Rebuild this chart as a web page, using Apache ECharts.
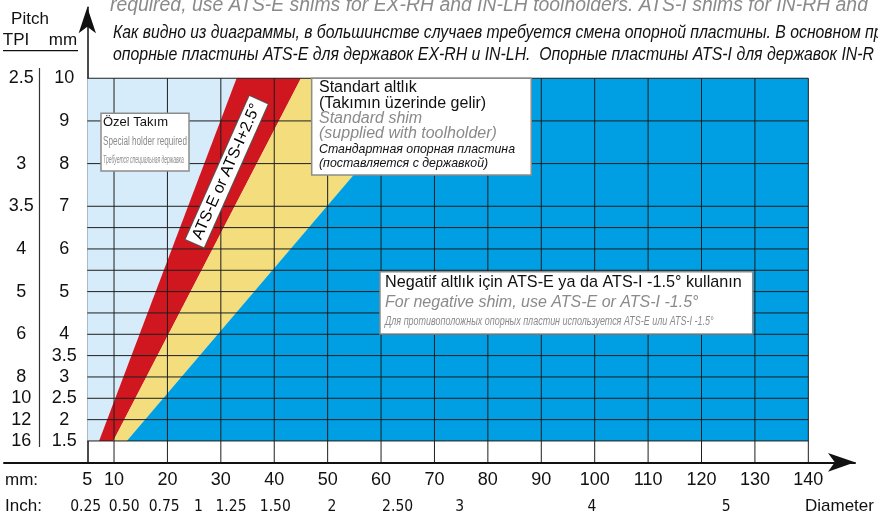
<!DOCTYPE html>
<html><head><meta charset="utf-8">
<script src="https://cdn.jsdelivr.net/npm/echarts@6/dist/echarts.min.js"></script>
<style>html,body{margin:0;padding:0;background:#fff}#c{width:878px;height:515px}</style>
</head><body><div id="c"></div>
<script>
// ---- axis ticks / labels ----
const mmTicks = [5, 10, 20, 30, 40, 50, 60, 70, 80, 90, 100, 110, 120, 130, 140];
const inchTickPos = [4.7, 11.9, 19.4, 25.8, 31.9, 40.2, 50.8, 63.1, 74.7, 99.5, 124.6];
const inchTickLabels = ['0.25', '0.50', '0.75', '1', '1.25', '1.50', '2', '2.50', '3', '4', '5'];
const pitchMmTicks = [1.5, 2, 2.5, 3, 3.5, 4, 5, 6, 7, 8, 9, 10];
const pitchMmLabels = ['1.5', '2', '2.5', '3', '3.5', '4', '5', '6', '7', '8', '9', '10'];
const pitchTpiLabels = ['16', '12', '10', '8', '', '6', '5', '4', '3.5', '3', '', '2.5'];

// ---- grid lines ----
const gridDia = [10, 20, 30, 40, 50, 60, 70, 80, 90, 100, 110, 120, 130, 140];
const gridPitch = [1.5, 2, 2.5, 3, 3.5, 4, 4.5, 5, 5.5, 6, 6.5, 7, 8, 9, 10];

// ---- zones: diameter (mm) of each boundary at pitch 1.5 and at pitch 10 ----
const pitchSpan = [1.5, 10];
const diaSpan = [5, 140];
const redLeft = [7.2, 32.95];
const redRight = [9.85, 45.0];
const yellowRight = [12.4, 70.3];

const zones = [
  { name: 'special', color: '#d6ecfa', pts: [[diaSpan[0], pitchSpan[0]], [diaSpan[1], pitchSpan[0]], [diaSpan[1], pitchSpan[1]], [diaSpan[0], pitchSpan[1]]] },
  { name: 'positive', color: '#d0171f', pts: [[redLeft[0], pitchSpan[0]], [redRight[0], pitchSpan[0]], [redRight[1], pitchSpan[1]], [redLeft[1], pitchSpan[1]]] },
  { name: 'standard', color: '#f3dd7d', pts: [[redRight[0], pitchSpan[0]], [yellowRight[0], pitchSpan[0]], [yellowRight[1], pitchSpan[1]], [redRight[1], pitchSpan[1]]] },
  { name: 'negative', color: '#009fe3', pts: [[yellowRight[0], pitchSpan[0]], [diaSpan[1], pitchSpan[0]], [diaSpan[1], pitchSpan[1]], [yellowRight[1], pitchSpan[1]]] }
];

const gridLines = [];
gridDia.forEach(d => gridLines.push([[d, 1], [d, pitchSpan[1]]]));
gridPitch.forEach(p => gridLines.push([[diaSpan[0], p], [diaSpan[1], p]]));

const bandLabel = [[31.1, 7.81]];

const FONT = '"Liberation Sans", Arial, sans-serif';
const NARROW = '"Liberation Sans Narrow", "DejaVu Sans Condensed", "Liberation Sans", sans-serif';

const chart = echarts.init(document.getElementById('c'), null, { renderer: 'canvas' });

function txt(x, y, text, size, opts) {
  opts = opts || {};
  return {
    type: 'text', x: x, y: y, z: 110, scaleX: opts.sx || 1,
    style: {
      text: text, fill: opts.color || '#111', fontSize: size, fontFamily: FONT,
      fontStyle: opts.italic ? 'italic' : 'normal',
      textAlign: opts.align || 'left', textVerticalAlign: 'middle'
    }
  };
}
function box(x, y, w, h) {
  return { type: 'rect', z: 105, shape: { x: x, y: y, width: w, height: h },
    style: { fill: '#fff', stroke: '#8c8c8c', lineWidth: 1.5 } };
}

const option = {
  animation: false,
  backgroundColor: '#fff',
  grid: { left: 4, right: 23, top: 7.3, bottom: 52.7, containLabel: false, outerBoundsMode: 'none' },
  xAxis: [
    {
      type: 'value', min: -10.6, max: 148.74, position: 'bottom',
      axisLine: { show: true, lineStyle: { color: '#111', width: 2 }, symbol: ['none', 'arrow'], symbolSize: [14, 27] },
      axisTick: { show: false }, splitLine: { show: false },
      axisLabel: { customValues: mmTicks, margin: 9, fontSize: 18, color: '#111', fontFamily: FONT,
        formatter: v => String(v) }
    },
    {
      type: 'value', min: -10.6, max: 148.74, position: 'bottom',
      axisLine: { show: false }, axisTick: { show: false }, splitLine: { show: false },
      axisLabel: { customValues: inchTickPos, margin: 37, fontSize: 15.5, color: '#111', fontFamily: NARROW,
        formatter: v => inchTickLabels[inchTickPos.indexOf(v)] || '' }
    }
  ],
  yAxis: [
    {
      type: 'value', min: 1, max: 11.663, position: 'left', offset: -83.3,
      axisLine: { show: true, lineStyle: { color: '#111', width: 1.5 }, symbol: ['none', 'arrow'], symbolSize: [13, 26] },
      axisTick: { show: false }, splitLine: { show: false },
      axisLabel: { customValues: pitchMmTicks, margin: 23, align: 'center', fontSize: 18, color: '#111', fontFamily: FONT,
        formatter: v => pitchMmLabels[pitchMmTicks.indexOf(v)] || '' }
    },
    {
      type: 'value', min: 1, max: 11.663, position: 'left', offset: -83.3,
      axisLine: { show: false }, axisTick: { show: false }, splitLine: { show: false },
      axisLabel: { customValues: pitchMmTicks, margin: 66, align: 'center', fontSize: 18, color: '#111', fontFamily: FONT,
        formatter: v => pitchTpiLabels[pitchMmTicks.indexOf(v)] || '' }
    }
  ],
  series: [
    {
      type: 'custom', name: 'zones', z: 2, silent: true,
      data: zones.map((z, i) => [i]),
      renderItem: function (params, api) {
        const zn = zones[params.dataIndex];
        return { type: 'polygon', shape: { points: zn.pts.map(p => api.coord(p)) },
          style: { fill: zn.color, stroke: null } };
      }
    },
    {
      type: 'custom', name: 'grid', z: 3, silent: true,
      data: gridLines.map((g, i) => [i]),
      renderItem: function (params, api) {
        const g = gridLines[params.dataIndex];
        const a = api.coord(g[0]), b = api.coord(g[1]);
        return { type: 'line', shape: { x1: a[0], y1: a[1], x2: b[0], y2: b[1] },
          style: { stroke: '#1e1e1e', lineWidth: 1 } };
      }
    },
    {
      type: 'scatter', name: 'bandLabel', z: 5, symbolSize: 0, silent: true,
      itemStyle: { opacity: 1 },
      data: bandLabel,
      label: {
        show: true, position: 'inside', rotate: 66, formatter: 'ATS-E or ATS-I+2.5°', opacity: 1,
        fontSize: 16, fontFamily: FONT, color: '#000', backgroundColor: '#ffffff',
        borderColor: '#555', borderWidth: 1, padding: [2, 5]
      }
    }
  ],
  graphic: [
    // header text
    txt(110, 6, 'required, use ATS-E shims for EX-RH and IN-LH toolholders. ATS-I shims for IN-RH and', 19.4, { italic: true, color: '#8a8a8a' }),
    txt(113, 33, 'Как видно из диаграммы, в большинстве случаев требуется смена опорной пластины. В основном пр', 18, { italic: true, sx: 0.875 }),
    txt(113, 55, 'опорные пластины ATS-E для державок EX-RH и IN-LH.  Опорные пластины ATS-I для державок IN-R', 18, { italic: true, sx: 0.88 }),
    // pitch header
    txt(30, 19.5, 'Pitch', 17, { align: 'center' }),
    txt(16, 40, 'TPI', 17, { align: 'center' }),
    txt(63, 40, 'mm', 17, { align: 'center' }),
    { type: 'line', z: 110, shape: { x1: 3, y1: 50.7, x2: 78, y2: 50.7 }, style: { stroke: '#111', lineWidth: 1.2 } },
    { type: 'line', z: 110, shape: { x1: 39.5, y1: 68, x2: 39.5, y2: 447 }, style: { stroke: '#333', lineWidth: 1.2 } },
    // axis captions
    txt(5, 480, 'mm:', 17),
    txt(5, 506.7, 'Inch:', 17),
    txt(805, 506.7, 'Diameter', 17),
    // special box
    box(101, 113.3, 88, 57.7),
    txt(103, 122.7, 'Özel Takım', 13),
    txt(103, 141.7, 'Special holder required', 12, { color: '#8a8a8a', sx: 0.68 }),
    txt(103, 160, 'Требуется специальная державка', 10, { color: '#8a8a8a', italic: true, sx: 0.5 }),
    // standard box
    box(311.7, 78.3, 219.5, 96.7),
    txt(319, 87.3, 'Standart altlık', 16),
    txt(319, 103.3, '(Takımın üzerinde gelir)', 16),
    txt(319, 118.3, 'Standard shim', 16, { italic: true, color: '#8a8a8a' }),
    txt(319, 133.3, '(supplied with toolholder)', 16, { italic: true, color: '#8a8a8a' }),
    txt(319, 149.3, 'Стандартная опорная пластина', 13, { italic: true, sx: 0.95 }),
    txt(319, 163.3, '(поставляется с державкой)', 13, { italic: true, sx: 0.95 }),
    // negative box
    box(380, 271.7, 372.7, 62.3),
    txt(385, 282.7, 'Negatif altlık için ATS-E ya da ATS-I -1.5° kullanın', 16.2),
    txt(385, 302.3, 'For negative shim, use ATS-E or ATS-I -1.5°', 16, { italic: true, color: '#8a8a8a' }),
    txt(385, 321.7, 'Для противоположных опорных пластин используется ATS-E или ATS-I -1.5°', 13, { italic: true, color: '#8a8a8a', sx: 0.69 })
  ]
};
chart.setOption(option);
</script></body></html>
